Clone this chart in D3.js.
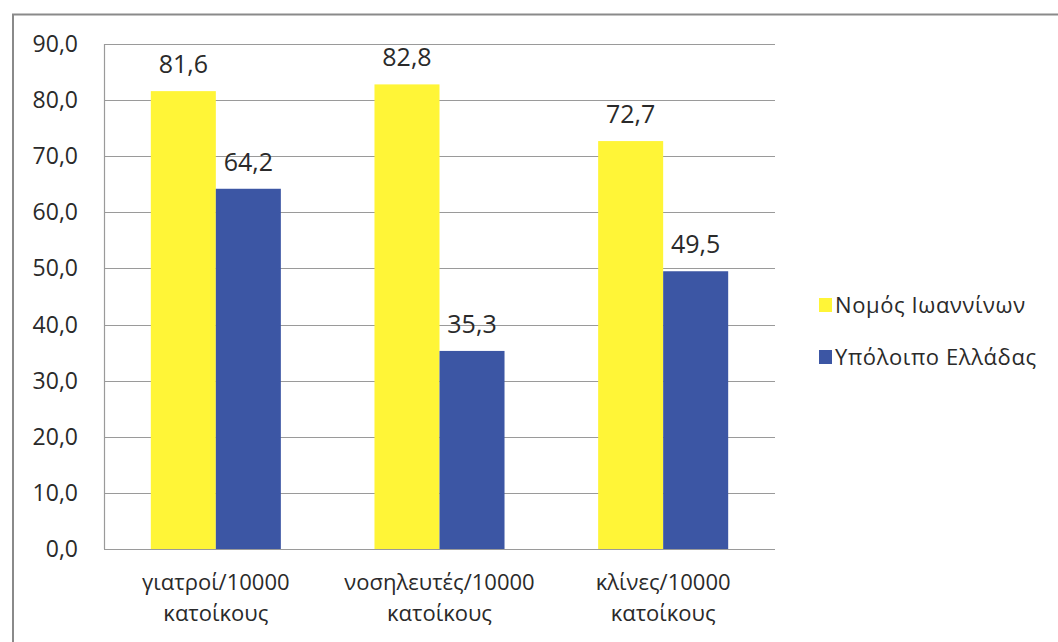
<!DOCTYPE html>
<html>
<head>
<meta charset="utf-8">
<script src="https://cdn.jsdelivr.net/npm/d3@7"></script>
<style>
  html, body { margin: 0; padding: 0; background: #fff; }
  svg { display: block; }
  text { font-family: "Open Sans", "Noto Sans", sans-serif; fill: #2a2a2a; }
</style>
</head>
<body>
<svg id="chart" width="1058" height="642"></svg>
<script>
// Indicators (two-line labels)
const categories = [
  ["γιατροί/10000", "κατοίκους"],
  ["νοσηλευτές/10000", "κατοίκους"],
  ["κλίνες/10000", "κατοίκους"]
];
const seriesNames = ["Νομός Ιωαννίνων", "Υπόλοιπο Ελλάδας"];
const ioanninaValues = [81.6, 82.8, 72.7];
const restGreeceValues = [64.2, 35.3, 49.5];
const yTicks = [0, 10, 20, 30, 40, 50, 60, 70, 80, 90];

const colors = ["#FFF537", "#3C56A4"];
const series = [ioanninaValues, restGreeceValues];

const svg = d3.select("#chart");
const W = 1058, H = 642;
const plot = { left: 104, right: 775, top: 44, bottom: 549 };

// Outer frame (top and left edges visible)
svg.append("path")
  .attr("d", `M13,${H} L13,14.5 L${W},14.5`)
  .attr("fill", "none")
  .attr("stroke", "#8a8a8a")
  .attr("stroke-width", 2);

const x0 = d3.scaleBand()
  .domain(d3.range(categories.length))
  .range([plot.left, plot.right])
  .paddingInner(0)
  .paddingOuter(0);

const x1 = d3.scaleBand()
  .domain(d3.range(series.length))
  .range([0, x0.bandwidth()])
  .paddingOuter(0.72)
  .paddingInner(0);

const y = d3.scaleLinear().domain([0, 90]).range([plot.bottom, plot.top]);

// Horizontal gridlines
svg.append("g")
  .selectAll("line")
  .data(yTicks)
  .join("line")
  .attr("x1", plot.left)
  .attr("x2", plot.right)
  .attr("y1", d => Math.round(y(d)) + 0.5)
  .attr("y2", d => Math.round(y(d)) + 0.5)
  .attr("stroke", "#9a9a9a")
  .attr("stroke-width", 1.2);

// Vertical axis line
svg.append("line")
  .attr("x1", plot.left + 0.5).attr("x2", plot.left + 0.5)
  .attr("y1", plot.top).attr("y2", plot.bottom)
  .attr("stroke", "#9a9a9a").attr("stroke-width", 1.2);

// Y tick labels
const fmt = v => d3.format(".1f")(v).replace(".", ",");
svg.append("g")
  .selectAll("text")
  .data(yTicks)
  .join("text")
  .attr("x", 78)
  .attr("y", d => y(d))
  .attr("dy", "0.35em")
  .attr("text-anchor", "end")
  .style("font-size", "23px")
  .text(fmt);

// Bars
const groups = svg.append("g")
  .selectAll("g")
  .data(categories.map((c, i) => i))
  .join("g")
  .attr("transform", i => `translate(${x0(i)},0)`);

groups.selectAll("rect")
  .data(i => series.map((s, k) => ({ k, v: s[i] })))
  .join("rect")
  .attr("x", d => x1(d.k))
  .attr("width", x1.bandwidth())
  .attr("y", d => y(d.v))
  .attr("height", d => y(0) - y(d.v))
  .attr("fill", d => colors[d.k]);

// Value labels
groups.selectAll("text.val")
  .data(i => series.map((s, k) => ({ k, v: s[i] })))
  .join("text")
  .attr("class", "val")
  .attr("x", d => x1(d.k) + x1.bandwidth() / 2)
  .attr("y", d => y(d.v) - 18)
  .attr("text-anchor", "middle")
  .style("font-size", "25px")
  .text(d => fmt(d.v));

// Category labels
const catLabels = svg.append("g")
  .selectAll("text")
  .data(categories)
  .join("text")
  .attr("text-anchor", "middle")
  .attr("transform", (d, i) => `translate(${x0(i) + x0.bandwidth() / 2},590)`)
  .style("font-size", "22px");
catLabels.selectAll("tspan")
  .data(d => d)
  .join("tspan")
  .attr("x", 0)
  .attr("dy", (d, j) => j === 0 ? 0 : 31)
  .text(d => d);

// Legend
const legend = svg.append("g")
  .selectAll("g")
  .data(seriesNames)
  .join("g")
  .attr("transform", (d, i) => `translate(819,${305 + i * 52})`);
legend.append("rect")
  .attr("x", 0).attr("y", -7)
  .attr("width", 13).attr("height", 14)
  .attr("fill", (d, i) => colors[i]);
legend.append("text")
  .attr("x", 16).attr("y", 0)
  .attr("dy", "0.35em")
  .style("font-size", "22px")
  .style("letter-spacing", "0.6px")
  .text(d => d);
</script>
</body>
</html>
